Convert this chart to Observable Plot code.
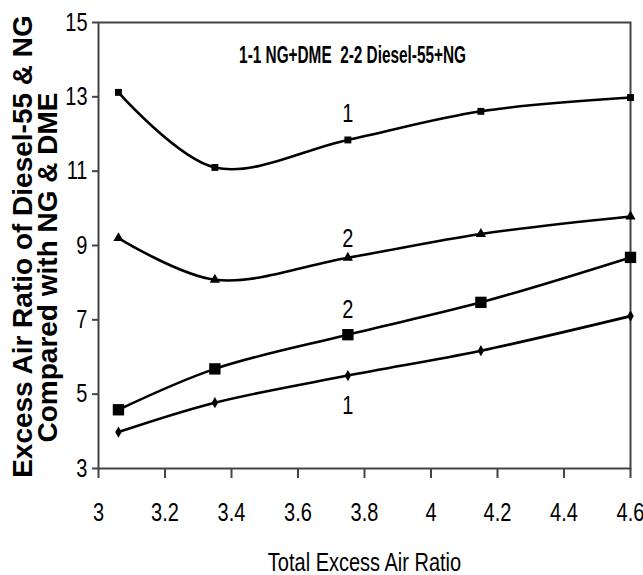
<!DOCTYPE html>
<html>
<head>
<meta charset="utf-8">
<script src="https://cdn.jsdelivr.net/npm/d3@7"></script>
<script src="https://cdn.jsdelivr.net/npm/@observablehq/plot@0.6"></script>
<style>
  html, body { margin: 0; padding: 0; background: #fff; }
</style>
</head>
<body>
<div id="chart"></div>
<script>
// Total excess air ratio (x)
const totalExcessAir = [3.06, 3.35, 3.75, 4.15, 4.6];
// Series values (y)
const ngDmeUpper   = [13.12, 11.10, 11.84, 12.61, 12.98]; // curve 1, small squares
const dieselUpper  = [9.20, 8.08, 8.67, 9.31, 9.78];      // curve 2, triangles
const dieselLower  = [4.58, 5.68, 6.60, 7.47, 8.68];      // curve 2, large squares
const ngDmeLower   = [3.98, 4.77, 5.50, 6.17, 7.10];      // curve 1, diamonds

// Tick values / labels
const xTicks = [3, 3.2, 3.4, 3.6, 3.8, 4, 4.2, 4.4, 4.6];
const xTickLabels = ["3", "3.2", "3.4", "3.6", "3.8", "4", "4.2", "4.4", "4.6"];
const yTicks = [3, 5, 7, 9, 11, 13, 15];

// Curve number labels
const curveLabelX = [3.75, 3.75, 3.75, 3.75];
const curveLabelY = [12.55, 9.18, 7.27, 4.67];
const curveLabelText = ["1", "2", "2", "1"];

// Legend annotation
const legendText = ["1-1 NG+DME  2-2 Diesel-55+NG"];
const legendX = [3.764];
const legendY = [14.13];

// Axis titles
const xTitle = "Total Excess Air Ratio";
const yTitle1 = "Excess Air Ratio of Diesel-55 & NG";
const yTitle2 = "Compared with NG & DME";

const seriesDefs = [
  {name: "ngDmeUpper", values: ngDmeUpper, symbol: "square", r: 3.9},
  {name: "dieselUpper", values: dieselUpper, symbol: "triangle", r: 3.8},
  {name: "dieselLower", values: dieselLower, symbol: "square", r: 6.4},
  {name: "ngDmeLower", values: ngDmeLower, symbol: "diamond", r: 3.4}
];

const rows = seriesDefs.flatMap(s => s.values.map((v, i) => ({series: s.name, x: totalExcessAir[i], y: v})));
const labelRows = curveLabelText.map((t, i) => ({x: curveLabelX[i], y: curveLabelY[i], t}));
const legendRows = legendText.map((t, i) => ({x: legendX[i], y: legendY[i], t}));

const sans = "'Liberation Sans', Arial, sans-serif";

const chart = Plot.plot({
  width: 643,
  height: 575,
  marginLeft: 98,
  marginRight: 13,
  marginTop: 22,
  marginBottom: 107,
  style: {fontFamily: sans, fontSize: "25px", color: "black", background: "white"},
  x: {domain: [3, 4.6]},
  y: {domain: [3, 15]},
  marks: [
    Plot.frame({stroke: "#444", strokeWidth: 2}),
    Plot.axisX({ticks: xTicks, tickFormat: d => xTickLabels[xTicks.indexOf(d)], tickSize: 10, tickPadding: 25, stroke: "#444", strokeWidth: 2, fill: "black", label: null, fontSize: 25}),
    Plot.axisY({ticks: yTicks, tickFormat: d => String(d), tickSize: 6, tickPadding: 5, stroke: "#444", strokeWidth: 2, fill: "black", label: null, fontSize: 25}),
    Plot.line(rows, {x: "x", y: "y", z: "series", curve: "catmull-rom", stroke: "black", strokeWidth: 2.6}),
    ...seriesDefs.map(s => Plot.dot(rows.filter(d => d.series === s.name), {x: "x", y: "y", symbol: s.symbol, r: s.r, fill: "black", stroke: "none"})),
    Plot.text(labelRows, {x: "x", y: "y", text: "t", fontSize: 25, fill: "black"}),
    Plot.text(legendRows, {x: "x", y: "y", text: "t", fontSize: 24, fontWeight: "bold", fill: "black"}),
    Plot.text([xTitle], {frameAnchor: "bottom", textAnchor: "middle", text: d => d, dy: 94, lineAnchor: "middle", fontSize: 25, fill: "black"}),
    Plot.text([yTitle1], {frameAnchor: "left", textAnchor: "middle", text: d => d, rotate: -90, dx: -75, dy: 1, lineAnchor: "middle", fontSize: 28, fontWeight: "bold", fill: "black"}),
    Plot.text([yTitle2], {frameAnchor: "left", textAnchor: "middle", text: d => d, rotate: -90, dx: -50, dy: 22, lineAnchor: "middle", fontSize: 28, fontWeight: "bold", fill: "black"})
  ]
});
document.getElementById("chart").appendChild(chart);

// Emulate the condensed (Arial Narrow-like) lettering of the reference
d3.select(chart).selectAll("text").each(function() {
  const content = this.textContent;
  if (content === yTitle1 || content === yTitle2) return;
  const factor = legendText.includes(content) ? 0.64 : 0.8;
  const t = this.getAttribute("transform") || "";
  this.setAttribute("transform", (t + ` scale(${factor},1)`).trim());
});
</script>
</body>
</html>
